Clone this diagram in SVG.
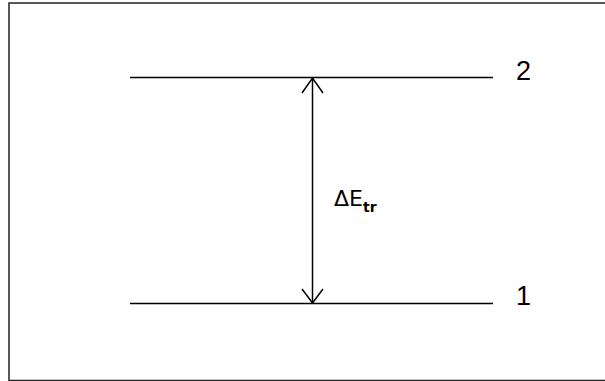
<svg xmlns="http://www.w3.org/2000/svg" width="605" height="381" viewBox="0 0 605 381">
<style>
.ln{stroke:#000;stroke-width:1.5;fill:none}
.lbl{font-family:"Liberation Sans",Arial,sans-serif;fill:#000}
.dl{font-family:"DejaVu Sans",Verdana,sans-serif;fill:#000;font-size:22px}
</style>
<rect x="0" y="0" width="605" height="381" fill="#fff"/>
<path d="M9,381 V3 H605" stroke="#222" stroke-width="1.5" fill="none"/>
<path d="M9,380.5 H605" stroke="#222" stroke-width="1.5"/>
<g id="level2"><line class="ln" x1="130" y1="77.5" x2="493" y2="77.5"/><text class="lbl" x="516" y="80" font-size="27">2</text></g>
<g id="level1"><line class="ln" x1="130" y1="303.5" x2="493" y2="303.5"/><text class="lbl" x="516" y="305" font-size="27">1</text></g>
<g id="connectors">
<line class="ln" x1="312.5" y1="78" x2="312.5" y2="303"/>
<path class="ln" d="M302,93 L312.5,78 L323,93"/>
<path class="ln" d="M302,289 L312.5,303 L323,289"/>
</g>
<g id="label"><text class="dl" x="334" y="206">ΔE<tspan style="font-size:14px;font-weight:bold" dy="6">tr</tspan></text></g>
</svg>
